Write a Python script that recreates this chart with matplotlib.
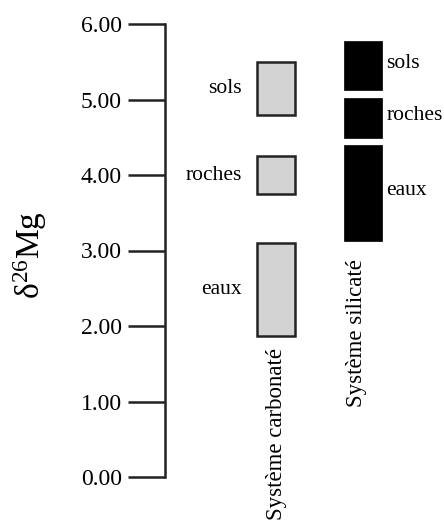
import numpy as np
import matplotlib
matplotlib.use("Agg")
import matplotlib.pyplot as plt

plt.rcParams['font.family'] = ['Liberation Serif', 'DejaVu Serif']
plt.rcParams['mathtext.fontset'] = 'custom'
plt.rcParams['mathtext.rm'] = 'Liberation Serif'
plt.rcParams['mathtext.default'] = 'regular'

# Données (delta 26Mg, min / max par réservoir)
reservoirs = ['sols', 'roches', 'eaux']
carb_bas = [4.80, 3.75, 1.87]
carb_haut = [5.50, 4.25, 3.10]
sil_bas = [5.13, 4.49, 3.13]
sil_haut = [5.77, 5.02, 4.40]
systemes = ['Système carbonaté', 'Système silicaté']
yticks = [0, 1, 2, 3, 4, 5, 6]

fig = plt.figure(figsize=(4.44, 5.25), dpi=100)
ax = fig.add_axes([165 / 444, 48 / 525, 279 / 444, 453 / 525])
ax.set_ylim(0, 6)
ax.set_xlim(-1.276, 1.931)

largeur = 0.437
cb = np.array(carb_bas); ch = np.array(carb_haut)
sb = np.array(sil_bas); sh = np.array(sil_haut)

ax.bar(np.zeros(3), ch - cb, bottom=cb, width=largeur,
       color='#d3d3d3', edgecolor='#222222', linewidth=1.8)
ax.bar(np.ones(3), sh - sb, bottom=sb, width=largeur,
       color='black', edgecolor='black', linewidth=0.5)

# étiquettes des réservoirs
for nom, b, h in zip(reservoirs, cb, ch):
    ax.annotate(nom, xy=(-largeur / 2, (b + h) / 2), xytext=(-11, 0),
                textcoords='offset points', ha='right', va='center', fontsize=15.5)
for nom, b, h in zip(reservoirs, sb, sh):
    ax.annotate(nom, xy=(1 + largeur / 2, (b + h) / 2 + 0.03), xytext=(3, 0),
                textcoords='offset points', ha='left', va='center', fontsize=15.5)

# noms des systèmes (verticaux)
ax.text(0.01, 1.71, systemes[0], rotation=90, ha='center', va='top',
        fontsize=16.5, clip_on=False)
ax.text(0.92, 2.88, systemes[1], rotation=90, ha='center', va='top',
        fontsize=16.5, clip_on=False)

# axe
ax.set_yticks(yticks)
ax.set_yticklabels(['%.2f' % v for v in yticks], fontsize=17)
ax.tick_params(axis='y', length=27, width=1.8, pad=4, colors='#222222')
ax.tick_params(axis='y', labelcolor='black')
ax.set_xticks([])
for s in ['top', 'right', 'bottom']:
    ax.spines[s].set_visible(False)
ax.spines['left'].set_linewidth(1.8)
ax.spines['left'].set_color('#222222')
ax.patch.set_alpha(0)

fig.text(30 / 444, 1 - 255 / 525, 'δ$^{26}$Mg', rotation=90,
         ha='center', va='center', fontsize=24)

fig.savefig('out.png', dpi=100)
